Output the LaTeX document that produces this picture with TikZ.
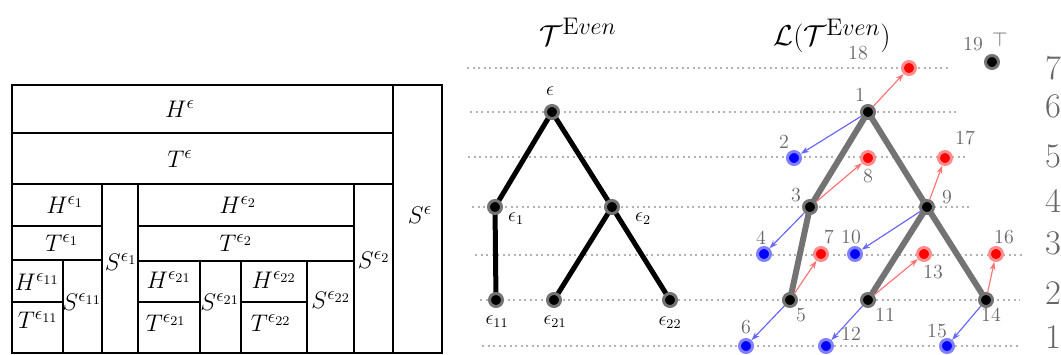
\documentclass[tikz,border=0pt]{standalone}
\usepackage{amsmath, amsfonts}
\usepackage{tikz}
\usetikzlibrary{positioning, arrows.meta, backgrounds}

\begin{document}
\begin{tikzpicture}[x=0.6pt, y=-0.6pt]
\tikzset{
    every node/.style={align=center},
    box/.style={draw, line width=1.1pt},
    boxlab/.style={font=\fontsize{15.5}{18}\selectfont},
    lvl/.style={black!30, dotted, line width=1.3pt},
    bk/.style={circle, fill=black, draw=black!55, line width=1.8pt, minimum size=7.8pt, inner sep=0pt},
    rd/.style={bk, fill=red, draw=red!45},
    bl/.style={bk, fill=blue, draw=blue!50},
    num/.style={text=black!60, font=\large},
    tick/.style={text=black!60, font=\huge},
    title/.style={font=\fontsize{19}{22}\selectfont},
    tedge/.style={line width=3pt, black},
    gedge/.style={line width=3.6pt, black!55},
    redarr/.style={-{Stealth[length=5pt, width=3.5pt]}, red!55, line width=0.7pt},
    bluearr/.style={-{Stealth[length=5pt, width=3.5pt]}, blue!60, line width=0.7pt}
}
\useasboundingbox (0,0) rectangle (1061,354);

% the nested boxes
\draw[box] (12,85) rectangle (442,353);
\draw[box] (393,85) -- (393,353);
\draw[box] (12,133) -- (393,133);
\draw[box] (12,184) -- (393,184);
\draw[box] (102,184) -- (102,353);
\draw[box] (138,184) -- (138,353);
\draw[box] (354,184) -- (354,353);
\draw[box] (12,226) -- (102,226);
\draw[box] (12,260) -- (102,260);
\draw[box] (138,226) -- (354,226);
\draw[box] (138,261) -- (354,261);
\draw[box] (63,260) -- (63,353);
\draw[box] (12,302) -- (63,302);
\draw[box] (200,261) -- (200,353);
\draw[box] (241,261) -- (241,353);
\draw[box] (307,261) -- (307,353);
\draw[box] (138,302) -- (200,302);
\draw[box] (241,302) -- (307,302);

\node[boxlab] (He) at (180,109) {$H^{\epsilon}$};
\node[boxlab] (Te) at (180,159) {$T^{\epsilon}$};
\node[boxlab] (Se) at (420,215) {$S^{\epsilon}$};
\node[boxlab] (He1) at (65,205) {$H^{\epsilon_1}$};
\node[boxlab] (Te1) at (62,243) {$T^{\epsilon_1}$};
\node[boxlab] (Se1) at (121,262) {$S^{\epsilon_1}$};
\node[boxlab] (He2) at (238,205) {$H^{\epsilon_2}$};
\node[boxlab] (Te2) at (236,243) {$T^{\epsilon_2}$};
\node[boxlab] (Se2) at (374,260) {$S^{\epsilon_2}$};
\node[boxlab] (He11) at (37,282) {$H^{\epsilon_{11}}$};
\node[boxlab] (Te11) at (38,320) {$T^{\epsilon_{11}}$};
\node[boxlab] (Se11) at (82,302) {$S^{\epsilon_{11}}$};
\node[boxlab] (He21) at (169,280) {$H^{\epsilon_{21}}$};
\node[boxlab] (Te21) at (166,323) {$T^{\epsilon_{21}}$};
\node[boxlab] (Se21) at (220,302) {$S^{\epsilon_{21}}$};
\node[boxlab] (He22) at (274,280) {$H^{\epsilon_{22}}$};
\node[boxlab] (Te22) at (271,323) {$T^{\epsilon_{22}}$};
\node[boxlab] (Se22) at (331,300) {$S^{\epsilon_{22}}$};

% titles
\node[title] (titleT) at (578,32) {$\mathcal{T}^{\mathrm{E}ven}$};
\node[title] (titleL) at (832,36) {$\mathcal{L}(\mathcal{T}^{\mathrm{E}ven})$};

% levels
\foreach \y/\t in {68/7, 106/6, 156/5, 201/4, 243/3, 293/2, 337/1} {
    \node[tick] (lv\t) at (1053,\y) {\t};
}

% left tree
\node[bk] (e) at (552,112) {};
\node[bk] (e1) at (495,207) {};
\node[bk] (e2) at (612,207) {};
\node[bk] (e11) at (496,300) {};
\node[bk] (e21) at (554,300) {};
\node[bk] (e22) at (670,300) {};
\node[font=\large] (le) at (550,91) {$\epsilon$};
\node[font=\large] (le1) at (516,219) {$\epsilon_1$};
\node[font=\large] (le2) at (643,219) {$\epsilon_2$};
\node[font=\large] (le11) at (497,322) {$\epsilon_{11}$};
\node[font=\large] (le21) at (555,322) {$\epsilon_{21}$};
\node[font=\large] (le22) at (670,323) {$\epsilon_{22}$};

% line graph
\node[bk] (n1) at (868,112) {};
\node[bl] (n2) at (794,158) {};
\node[bk] (n3) at (810,207) {};
\node[bl] (n4) at (764,254) {};
\node[bk] (n5) at (790,300) {};
\node[bl] (n6) at (746,346) {};
\node[rd] (n7) at (821,254) {};
\node[rd] (n8) at (868,158) {};
\node[bk] (n9) at (927,207) {};
\node[bl] (n10) at (855,254) {};
\node[bk] (n11) at (868,300) {};
\node[bl] (n12) at (826,346) {};
\node[rd] (n13) at (924,254) {};
\node[bk] (n14) at (986,300) {};
\node[bl] (n15) at (947,346) {};
\node[rd] (n16) at (996,254) {};
\node[rd] (n17) at (945,158) {};
\node[rd] (n18) at (909,68) {};
\node[bk] (n19) at (992,62) {};

\node[num] (l1) at (860,95) {1};
\node[num] (l2) at (784,142) {2};
\node[num] (l3) at (796,195) {3};
\node[num] (l4) at (761,238) {4};
\node[num] (l5) at (801,315) {5};
\node[num] (l6) at (746,327) {6};
\node[num] (l7) at (829,237) {7};
\node[num] (l8) at (868,176) {8};
\node[num] (l9) at (947,197) {9};
\node[num] (l10) at (851,237) {10};
\node[num] (l11) at (885,315) {11};
\node[num] (l12) at (851,334) {12};
\node[num] (l13) at (933,272) {13};
\node[num] (l14) at (991,315) {14};
\node[num] (l15) at (937,331) {15};
\node[num] (l16) at (1004,237) {16};
\node[num] (l17) at (965,138) {17};
\node[num] (l18) at (858,53) {18};
\node[num] (l19) at (973,44) {19};
\node[num] (ltop) at (1000,40) {$\top$};

\begin{scope}[on background layer]
    \foreach \y/\a/\b in {68/467/950, 112/470/958, 157/468/968, 207/472/970, 255/475/1022, 300/480/1020, 346/482/1020} {
        \draw[lvl] (\a,\y) -- (\b,\y);
    }
    \draw[tedge] (e.center) -- (e1.center) -- (e11.center);
    \draw[tedge] (e.center) -- (e2.center) -- (e22.center);
    \draw[tedge] (e2.center) -- (e21.center);
    \draw[gedge] (n1.center) -- (n3.center) -- (n5.center);
    \draw[gedge] (n1.center) -- (n9.center) -- (n14.center);
    \draw[gedge] (n9.center) -- (n11.center);
\end{scope}

% arrows
\draw[redarr] (n1) -- (n18);
\draw[redarr] (n3) -- (n8);
\draw[redarr] (n5) -- (n7);
\draw[redarr] (n9) -- (n17);
\draw[redarr] (n11) -- (n13);
\draw[redarr] (n14) -- (n16);
\draw[bluearr] (n1) -- (n2);
\draw[bluearr] (n3) -- (n4);
\draw[bluearr] (n5) -- (n6);
\draw[bluearr] (n9) -- (n10);
\draw[bluearr] (n11) -- (n12);
\draw[bluearr] (n14) -- (n15);
\end{tikzpicture}
\end{document}
